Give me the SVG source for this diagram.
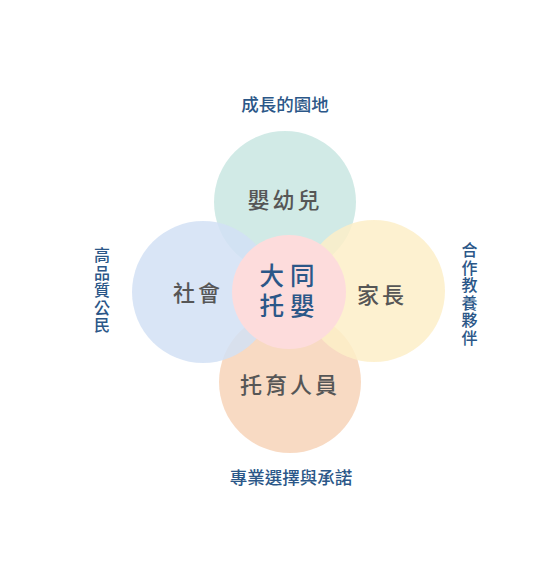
<svg xmlns="http://www.w3.org/2000/svg" width="553" height="587" viewBox="0 0 553 587">
<style>
.c{opacity:0.85}
.lab{font-family:"Noto Sans CJK TC","Noto Sans CJK SC",sans-serif;fill:#565656;font-size:22px;text-anchor:middle;font-weight:500}
.out{font-family:"Noto Sans CJK TC","Noto Sans CJK SC",sans-serif;fill:#2b5788;font-size:17.5px;text-anchor:middle;font-weight:500}
.v{font-family:"Noto Sans CJK TC","Noto Sans CJK SC",sans-serif;fill:#2b5788;font-size:16px;text-anchor:middle;font-weight:500}
.ctr{font-family:"Noto Sans CJK TC","Noto Sans CJK SC",sans-serif;fill:#2b5788;font-size:24.5px;text-anchor:middle;font-weight:500}
</style>
<rect width="553" height="587" fill="#ffffff"/>
<g id="connectors"></g>
<g id="node-bottom"><circle class="c" cx="290" cy="382" r="71" fill="#f7d3b8"/><text class="lab" x="290" y="393" letter-spacing="3">托育人員</text></g>
<g id="node-top"><circle class="c" cx="285" cy="202" r="71" fill="#c9e6e2"/><text class="lab" x="285" y="208" letter-spacing="3">嬰幼兒</text></g>
<g id="node-left"><circle class="c" cx="203" cy="292" r="71" fill="#d2e1f4"/><text class="lab" x="198" y="301" letter-spacing="3">社會</text></g>
<g id="node-right"><circle class="c" cx="374" cy="291" r="71" fill="#fdeec8"/><text class="lab" x="382" y="303" letter-spacing="3">家長</text></g>
<g id="node-center"><circle cx="289" cy="292" r="57" fill="#fddcdc"/><text class="ctr" x="290" y="285" letter-spacing="6">大同</text><text class="ctr" x="290" y="315" letter-spacing="6">托嬰</text></g>
<g id="label-top"><text class="out" x="285" y="111">成長的園地</text></g>
<g id="label-bottom"><text class="out" x="291" y="484">專業選擇與承諾</text></g>
<g id="label-left"><text class="v" x="102" y="261">高</text><text class="v" x="102" y="278.6">品</text><text class="v" x="102" y="296.2">質</text><text class="v" x="102" y="313.8">公</text><text class="v" x="102" y="331.4">民</text></g>
<g id="label-right"><text class="v" x="469.5" y="256">合</text><text class="v" x="469.5" y="273.6">作</text><text class="v" x="469.5" y="291.2">教</text><text class="v" x="469.5" y="308.8">養</text><text class="v" x="469.5" y="326.4">夥</text><text class="v" x="469.5" y="344">伴</text></g>
</svg>
